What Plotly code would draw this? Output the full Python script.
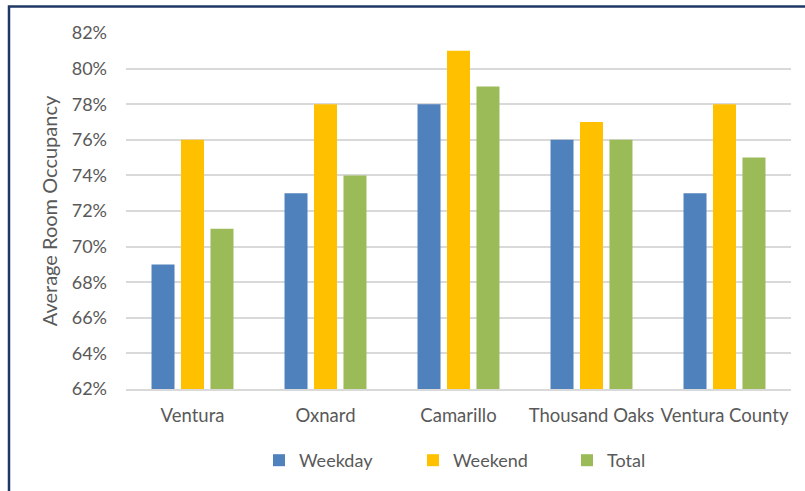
import plotly.graph_objects as go

# Average room occupancy by area
areas = ["Ventura", "Oxnard", "Camarillo", "Thousand Oaks", "Ventura County"]
weekday = [0.69, 0.73, 0.78, 0.76, 0.73]
weekend = [0.76, 0.78, 0.81, 0.77, 0.78]
total = [0.71, 0.74, 0.79, 0.76, 0.75]
y_ticks = [0.62, 0.64, 0.66, 0.68, 0.70, 0.72, 0.74, 0.76, 0.78, 0.80, 0.82]

FONT = "Lato, Open Sans, sans-serif"
TEXT = "#595959"
GRID = "#D9D9D9"

W, H = 805, 491
L, R, T, B = 126, 14, 33, 102
pw, ph = W - L - R, H - T - B

fig = go.Figure()
for name, vals, color in [("Weekday", weekday, "#4F81BD"),
                          ("Weekend", weekend, "#FFC000"),
                          ("Total", total, "#9BBB59")]:
    fig.add_trace(go.Bar(
        x=areas, y=[v - 0.62 for v in vals], base=0.62,
        name=name, marker=dict(color=color, line=dict(width=0)),
        hoverinfo="skip",
    ))

# navy frame around the chart
fig.add_shape(type="rect", xref="paper", yref="paper",
              x0=(9 - L) / pw, x1=(W + 20 - L) / pw,
              y0=-(H + 20 - T - ph) / ph, y1=1 + (T - 6.5) / ph,
              line=dict(color="#203864", width=2.5), layer="above")

fig.update_layout(
    width=W, height=H,
    margin=dict(l=L, r=R, t=T, b=B, autoexpand=False),
    paper_bgcolor="white", plot_bgcolor="white",
    barmode="group", bargap=0.335, bargroupgap=0.22,
    font=dict(family=FONT, color=TEXT, size=18),
    showlegend=True,
    legend=dict(orientation="h", x=(259 - L) / pw, xanchor="left",
                y=-(442 - T - ph) / ph, yanchor="top",
                font=dict(size=18, color=TEXT), itemwidth=30,
                entrywidth=109, entrywidthmode="pixels",
                traceorder="normal"),
)
fig.update_xaxes(showgrid=False, showline=True, linecolor=GRID, linewidth=1.5,
                 automargin=False,
                 ticks="", tickfont=dict(size=18.5, color=TEXT), ticklabelstandoff=9)
fig.update_yaxes(range=[0.62, 0.82], tickvals=y_ticks, tickformat=".0%",
                 automargin=False,
                 showgrid=True, gridcolor=GRID, gridwidth=1.5, zeroline=False,
                 showline=False, ticks="", ticklabelstandoff=18,
                 tickfont=dict(size=18, color=TEXT),
                 title=dict(text="Average Room Occupancy", font=dict(size=20, color=TEXT),
                            standoff=8))

fig.write_html("out.html")
